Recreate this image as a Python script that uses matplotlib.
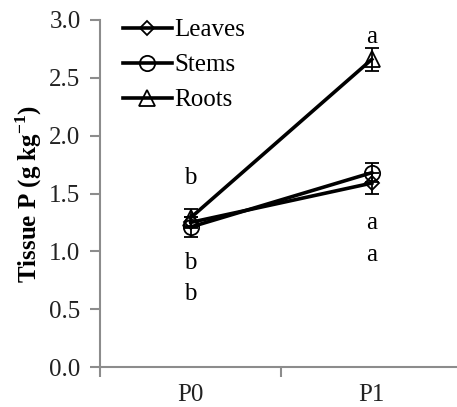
#!/usr/bin/env python3

import numpy as np
import matplotlib
matplotlib.use('Agg')
import matplotlib.pyplot as plt
from matplotlib.ticker import FixedLocator

plt.rcParams['font.family'] = ['Liberation Serif', 'DejaVu Serif']
plt.rcParams['mathtext.fontset'] = 'custom'
plt.rcParams['mathtext.rm'] = 'Liberation Serif'
plt.rcParams['mathtext.bf'] = 'Liberation Serif:bold'

# Data.
treatments = ['P0', 'P1']
series = ['Leaves', 'Stems', 'Roots']
leaves = [1.25, 1.59]
stems = [1.21, 1.68]
roots = [1.29, 2.66]
leaves_err = [0.05, 0.09]
stems_err = [0.09, 0.08]
roots_err = [0.08, 0.10]
markers = ['D', 'o', '^']
marker_sizes = [7, 11, 11]

# Significance letters: (x index, y, label)
letters_x = [0, 0, 0, 1, 1, 1]
letters_y = [1.63, 0.90, 0.63, 2.85, 1.245, 0.97]
letters = ['b', 'b', 'b', 'a', 'a', 'a']

fig = plt.figure(figsize=(4.57, 4.07), dpi=100)
ax = fig.add_axes([100 / 457, 40 / 407, 357 / 457, 347 / 407])

x = np.arange(len(treatments))
handles = []
for name, vals, errs, m, ms in zip(series, [leaves, stems, roots],
                                   [leaves_err, stems_err, roots_err],
                                   markers, marker_sizes):
    eb = ax.errorbar(x, vals, yerr=errs, color='black', lw=2.6, marker=m, ms=ms,
                     mfc='none', mec='black', mew=1.3, ecolor='black',
                     elinewidth=1.3, capsize=5, capthick=1.3, label=name)
    handles.append(eb[0])

for xi, yi, t in zip(letters_x, letters_y, letters):
    ax.text(xi, yi, t, ha='center', va='center', fontsize=18)

ax.set_xlim(-0.5, 1.47)
ax.set_ylim(0, 3.0)
ax.set_yticks(np.arange(0, 3.01, 0.5))
ax.set_yticklabels(['%.1f' % v for v in np.arange(0, 3.01, 0.5)])
ax.set_xticks(x)
ax.set_xticklabels(treatments)
ax.xaxis.set_minor_locator(FixedLocator([-0.5, 0.5]))
ax.tick_params(axis='x', which='major', length=0, pad=12, labelsize=18)
ax.tick_params(axis='x', which='minor', length=7, width=1.5, color='#8c8c8c',
               direction='out')
ax.tick_params(axis='y', length=7, width=1.5, color='#8c8c8c', pad=7,
               labelsize=18, labelcolor='#222222')
ax.tick_params(axis='x', labelcolor='#222222')

for side in ['top', 'right']:
    ax.spines[side].set_visible(False)
for side in ['left', 'bottom']:
    ax.spines[side].set_color('#8c8c8c')
    ax.spines[side].set_linewidth(1.5)

ax.set_ylabel(r'Tissue P (g kg$^{\mathbf{-1}}$)', fontsize=18,
              fontweight='bold', labelpad=4)

leg = ax.legend(handles, series, loc='upper left', bbox_to_anchor=(0.064, 1.003),
                frameon=False, fontsize=18, handlelength=1.95,
                handletextpad=0.12, labelspacing=0.5, borderaxespad=0,
                borderpad=0)

fig.savefig('out.png', dpi=100)
